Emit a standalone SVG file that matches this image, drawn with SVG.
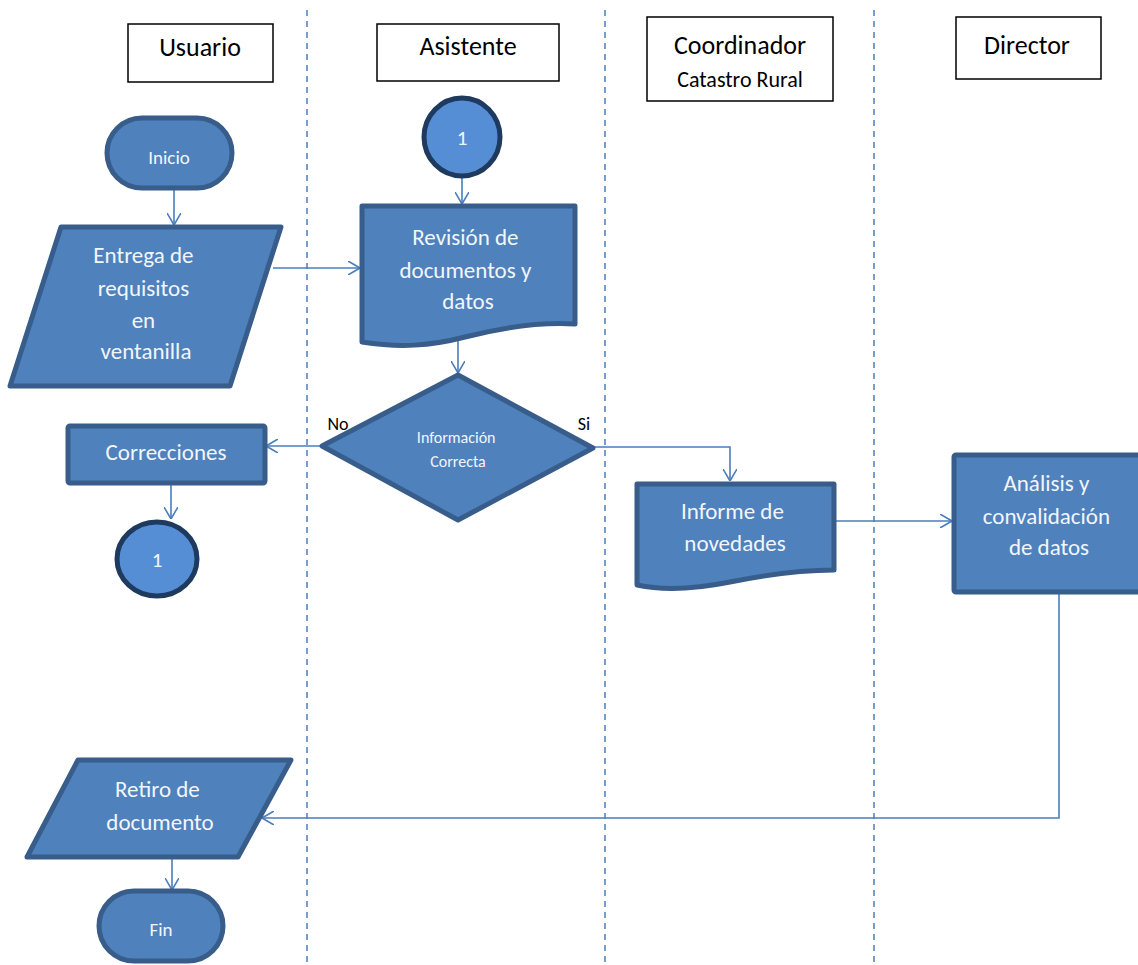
<svg xmlns="http://www.w3.org/2000/svg" width="1138" height="965" viewBox="0 0 1138 965">
  <style>
    .lane { stroke: #4A7EBB; stroke-width: 1.5; stroke-dasharray: 6 5; fill: none; }
    .hdr { fill: #FFFFFF; stroke: #000000; stroke-width: 1.5; }
    .hdrText { font-family: Carlito, Lato, "Open Sans", sans-serif; fill: #000000; text-anchor: middle; }
    .shape { fill: #4F81BD; stroke: #385D8A; stroke-width: 5; stroke-linejoin: round; }
    .conn { fill: #558ED5; stroke: #1F3A5F; stroke-width: 5; }
    .txt { font-family: Carlito, Lato, "Open Sans", sans-serif; fill: #F2F6FB; text-anchor: middle; }
    .edge { stroke: #4A7EBB; stroke-width: 1.6; fill: none; }
    .lbl { font-family: Carlito, Lato, "Open Sans", sans-serif; fill: #000000; font-size: 18px; text-anchor: middle; }
  </style>
  <defs>
    <marker id="arrow" viewBox="0 0 12 14" refX="12" refY="7" markerWidth="12" markerHeight="14" markerUnits="userSpaceOnUse" orient="auto">
      <path d="M0,0 L12,7 L0,14" fill="none" stroke="#4A7EBB" stroke-width="1.6"/>
    </marker>
  </defs>

  <!-- swimlane separators -->
  <g id="lanes">
    <line class="lane" x1="307" y1="10" x2="307" y2="965"/>
    <line class="lane" x1="605" y1="10" x2="605" y2="965"/>
    <line class="lane" x1="874" y1="10" x2="874" y2="965"/>
  </g>

  <!-- lane headers -->
  <g id="hdr-usuario">
    <rect class="hdr" x="128" y="24" width="145" height="58"/>
    <text class="hdrText" x="200" y="56" font-size="26">Usuario</text>
  </g>
  <g id="hdr-asistente">
    <rect class="hdr" x="377" y="24" width="182" height="57"/>
    <text class="hdrText" x="468" y="55" font-size="26">Asistente</text>
  </g>
  <g id="hdr-coordinador">
    <rect class="hdr" x="647" y="17" width="186" height="84"/>
    <text class="hdrText" x="740" y="54" font-size="26">Coordinador</text>
    <text class="hdrText" x="740" y="87" font-size="22">Catastro Rural</text>
  </g>
  <g id="hdr-director">
    <rect class="hdr" x="956" y="17" width="145" height="62"/>
    <text class="hdrText" x="1027" y="54" font-size="26">Director</text>
  </g>

  <!-- connectors -->
  <g id="edges">
    <line class="edge" x1="174" y1="188" x2="174" y2="225" marker-end="url(#arrow)"/>
    <line class="edge" x1="273" y1="268" x2="360" y2="268" marker-end="url(#arrow)"/>
    <line class="edge" x1="462" y1="178" x2="462" y2="204" marker-end="url(#arrow)"/>
    <line class="edge" x1="458" y1="340" x2="458" y2="373" marker-end="url(#arrow)"/>
    <line class="edge" x1="322" y1="446" x2="266" y2="446" marker-end="url(#arrow)"/>
    <line class="edge" x1="171" y1="484" x2="171" y2="519" marker-end="url(#arrow)"/>
    <polyline class="edge" points="593,447 730,447 730,481" marker-end="url(#arrow)"/>
    <line class="edge" x1="835" y1="521" x2="952" y2="521" marker-end="url(#arrow)"/>
    <polyline class="edge" points="1059,593 1059,818 262,818" marker-end="url(#arrow)"/>
    <line class="edge" x1="172" y1="858" x2="172" y2="890" marker-end="url(#arrow)"/>
  </g>

  <!-- nodes -->
  <g id="inicio">
    <rect class="shape" x="107" y="118" width="125" height="70" rx="35" ry="35"/>
    <text class="txt" x="169" y="164" font-size="19">Inicio</text>
  </g>

  <g id="entrega">
    <polygon class="shape" points="61,227 281,227 230,386 10,386"/>
    <text class="txt" font-size="23" x="146">
      <tspan x="146" y="263">Entrega de</tspan>
      <tspan x="146" y="296">requisitos</tspan>
      <tspan x="146" y="328">en</tspan>
      <tspan x="146" y="359">ventanilla</tspan>
    </text>
  </g>

  <g id="conector-1-inicio">
    <ellipse class="conn" cx="462" cy="137" rx="38" ry="39"/>
    <text class="txt" x="462" y="145" font-size="21">1</text>
  </g>

  <g id="revision">
    <path class="shape" d="M362,206 H575 V324 C540,322 500,328 465,337 C430,346 400,348 362,342 Z"/>
    <text class="txt" font-size="23" x="468">
      <tspan x="468" y="245">Revisión de</tspan>
      <tspan x="468" y="278">documentos y</tspan>
      <tspan x="468" y="309">datos</tspan>
    </text>
  </g>

  <g id="decision">
    <polygon class="shape" points="458,375 593,448 458,520 322,446"/>
    <text class="txt" font-size="16" x="458">
      <tspan x="458" y="443">Información</tspan>
      <tspan x="458" y="467">Correcta</tspan>
    </text>
    <text class="lbl" x="338" y="430">No</text>
    <text class="lbl" x="584" y="430">Si</text>
  </g>

  <g id="correcciones">
    <rect class="shape" x="68" y="426" width="197" height="57" rx="2"/>
    <text class="txt" x="166" y="460" font-size="23">Correcciones</text>
  </g>

  <g id="conector-1-fin">
    <ellipse class="conn" cx="157" cy="559" rx="40" ry="37"/>
    <text class="txt" x="157" y="567" font-size="21">1</text>
  </g>

  <g id="informe">
    <path class="shape" d="M637,484 H834 V570 C800,570 765,575 730,582 C695,589 665,591 637,585 Z"/>
    <text class="txt" font-size="23" x="735">
      <tspan x="735" y="519">Informe de</tspan>
      <tspan x="735" y="551">novedades</tspan>
    </text>
  </g>

  <g id="analisis">
    <rect class="shape" x="954" y="455" width="200" height="137" rx="2"/>
    <text class="txt" font-size="23" x="1049">
      <tspan x="1049" y="491">Análisis y</tspan>
      <tspan x="1049" y="524">convalidación</tspan>
      <tspan x="1049" y="555">de datos</tspan>
    </text>
  </g>

  <g id="retiro">
    <polygon class="shape" points="78,760 291,760 238,857 27,857"/>
    <text class="txt" font-size="23" x="160">
      <tspan x="160" y="797">Retiro de</tspan>
      <tspan x="160" y="830">documento</tspan>
    </text>
  </g>

  <g id="fin">
    <rect class="shape" x="99" y="891" width="124" height="70" rx="35" ry="35"/>
    <text class="txt" x="161" y="936" font-size="19">Fin</text>
  </g>
</svg>
